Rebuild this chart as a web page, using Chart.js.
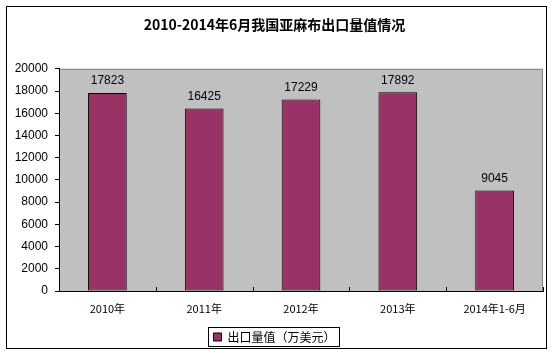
<!DOCTYPE html>
<html lang="zh">
<head>
<meta charset="UTF-8">
<title>2010-2014年6月我国亚麻布出口量值情况</title>
<script src="https://cdn.jsdelivr.net/npm/chart.js"></script>
<style>
    html, body { margin: 0; padding: 0; background: #ffffff; }
    .wrap { width: 552px; height: 353px; position: relative; }
</style>
</head>
<body>
<div class="wrap"><canvas id="linenChart"></canvas></div>
<script>
const years = ["2010年", "2011年", "2012年", "2013年", "2014年1-6月"];
const exportValues = [17823, 16425, 17229, 17892, 9045];
const yTicks = [0, 2000, 4000, 6000, 8000, 10000, 12000, 14000, 16000, 18000, 20000];

const cjk = "'Noto Sans CJK SC', 'Liberation Sans', sans-serif";
const latin = "'Liberation Sans', Arial, sans-serif";

// gray plot area, frame and outer border
const framePlugin = {
    id: "frame",
    beforeDraw(chart) {
        const { ctx, chartArea: a } = chart;
        ctx.save();
        ctx.fillStyle = "#ffffff";
        ctx.fillRect(0, 0, chart.width, chart.height);
        ctx.strokeStyle = "#000000";
        ctx.lineWidth = 1;
        ctx.strokeRect(6.5, 6.5, 540, 342);
        ctx.fillStyle = "#c0c0c0";
        ctx.fillRect(a.left, a.top, a.right - a.left, a.bottom - a.top);
        ctx.strokeStyle = "#808080";
        ctx.beginPath();
        ctx.moveTo(a.left, a.top + 0.5);
        ctx.lineTo(a.right - 0.5, a.top + 0.5);
        ctx.lineTo(a.right - 0.5, a.bottom);
        ctx.stroke();
        ctx.restore();
    },
    afterDraw(chart) {
        const { ctx, chartArea: a } = chart;
        ctx.save();
        ctx.strokeStyle = "#000000";
        ctx.lineWidth = 1;
        // category boundary ticks pointing into the plot
        ctx.beginPath();
        for (let i = 0; i <= years.length; i++) {
            const px = Math.round(a.left + (a.right - a.left) * i / years.length) + 0.5;
            ctx.moveTo(px, a.bottom);
            ctx.lineTo(px, a.bottom - 4);
        }
        ctx.stroke();
        // value labels
        const meta = chart.getDatasetMeta(0);
        ctx.fillStyle = "#000000";
        ctx.font = "12px " + latin;
        ctx.textAlign = "center";
        ctx.textBaseline = "middle";
        meta.data.forEach((bar, i) => {
            ctx.fillText(String(exportValues[i]), bar.x, bar.y - 12);
        });
        // legend frame
        const lg = chart.legend;
        if (lg && lg.legendHitBoxes && lg.legendHitBoxes.length) {
            const hb = lg.legendHitBoxes[0];
            ctx.strokeRect(Math.round(hb.left) - 4.5, Math.round(hb.top) - 3.5,
                Math.round(hb.width) + 9, Math.round(hb.height) + 7);
        }
        ctx.restore();
    }
};

new Chart(document.getElementById("linenChart"), {
    type: "bar",
    data: {
        labels: years,
        datasets: [{
            label: "出口量值（万美元）",
            data: exportValues,
            backgroundColor: "#993366",
            borderColor: "#000000",
            borderWidth: 1,
            borderSkipped: false,
            barPercentage: 0.4,
            categoryPercentage: 1
        }]
    },
    options: {
        responsive: true,
        maintainAspectRatio: false,
        animation: false,
        layout: { padding: { left: 6, right: 9, top: 0, bottom: 0 } },
        plugins: {
            title: {
                display: true,
                text: "2010-2014年6月我国亚麻布出口量值情况",
                color: "#000000",
                font: { family: cjk, size: 14, weight: "bold", lineHeight: 1.2 },
                padding: { top: 16, bottom: 36 }
            },
            legend: {
                position: "bottom",
                labels: {
                    color: "#000000",
                    font: { family: cjk, size: 12 },
                    boxWidth: 8,
                    boxHeight: 8,
                    padding: 6,
                    generateLabels: (chart) => [{
                        text: chart.data.datasets[0].label,
                        fillStyle: "#993366",
                        strokeStyle: "#000000",
                        lineWidth: 1,
                        datasetIndex: 0
                    }]
                }
            },
            tooltip: { enabled: false }
        },
        scales: {
            x: {
                grid: { display: false, drawTicks: false },
                border: { display: true, color: "#000000", width: 1 },
                ticks: {
                    color: "#000000",
                    font: { family: cjk, size: 11 },
                    padding: 11,
                    maxRotation: 0,
                    autoSkip: false
                },
                afterFit(scale) { scale.height = 34; }
            },
            y: {
                min: 0,
                max: 20000,
                afterBuildTicks(scale) { scale.ticks = yTicks.map(v => ({ value: v })); },
                grid: { drawOnChartArea: false, color: "#000000", tickLength: 4 },
                border: { display: true, color: "#000000", width: 1 },
                ticks: {
                    color: "#000000",
                    font: { family: latin, size: 12 },
                    padding: 7,
                    callback: (v) => String(v)
                },
                afterFit(scale) { scale.width = 53; }
            }
        }
    },
    plugins: [framePlugin]
});
</script>
</body>
</html>
